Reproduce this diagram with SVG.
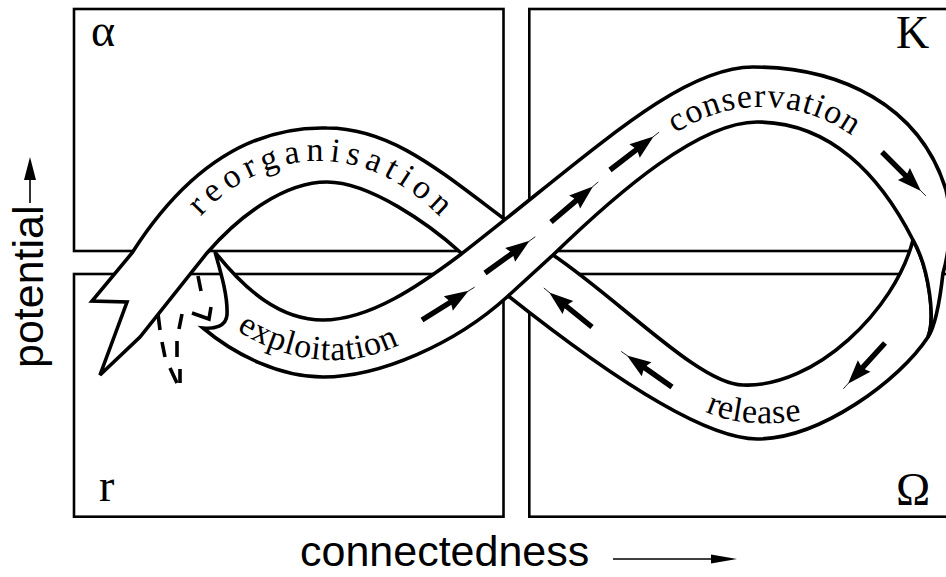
<svg xmlns="http://www.w3.org/2000/svg" xmlns:xlink="http://www.w3.org/1999/xlink" width="946" height="577" viewBox="0 0 946 577">
  <style>
    .box { fill: none; stroke: #000; stroke-width: 2.6; }
    .band { fill: #fff; stroke: #000; stroke-width: 3.6; stroke-linejoin: miter; stroke-miterlimit: 4; }
    .phase { font-family: "Liberation Serif", "Times New Roman", serif; font-size: 34px; fill: #000; }
    .corner { font-family: "Liberation Serif", "Times New Roman", serif; font-size: 46px; fill: #000; }
    .axis { font-family: "Liberation Sans", Arial, sans-serif; font-size: 43px; fill: #000; }
    .dash { fill: none; stroke: #000; stroke-width: 3.6; stroke-linecap: butt; stroke-linejoin: miter; }
  </style>
  <defs>
    <!-- flow arrow pointing along +x, tail at origin -->
    <g id="flow">
      <path d="M0,-2.7 L33,-2.7 L31,-8.5 L55,0 L31,8.5 L33,2.7 L0,2.7 Z" fill="#000"/>
      <line x1="54" y1="0" x2="62" y2="0" stroke="#000" stroke-width="0.8"/>
    </g>
    <!-- baselines for the curved phase labels -->
    <path id="p-reorg" d="M196,222 C235,175 285,160 322,161 C365,162 405,180 448,225"/>
    <path id="p-cons" d="M655,148 C690,120 725,107 760,107 C800,107 830,118 865,145"/>
    <path id="p-expl" d="M225,322 C260,348 300,362 342,360 C365,359 385,352 410,340"/>
    <path id="p-rel" d="M698,408 C725,424 770,428 820,417"/>
  </defs>

  <!-- quadrant boxes -->
  <g id="alpha">
    <rect class="box" x="74" y="9" width="429.5" height="242"/>
    <text class="corner" x="91" y="46" font-size="54">α</text>
  </g>
  <g id="K">
    <rect class="box" x="529.3" y="9" width="430" height="242"/>
    <text class="corner" x="896" y="48">K</text>
  </g>
  <g id="r">
    <rect class="box" x="74" y="274" width="429.5" height="242.7"/>
    <text class="corner" x="99" y="501">r</text>
  </g>
  <g id="Omega">
    <rect class="box" x="529.3" y="274" width="430" height="242.7"/>
    <text class="corner" x="896" y="505">Ω</text>
  </g>

  <g id="connectors">
    <!-- release + reorganisation ribbon (passes underneath at the centre) -->
    <path id="ribbon-back" class="band" d="M913,240 C895,310 815,388 743,385 C700,385 620,300 553,255 L503,218 C439,170 390,128 327,128 C250,126 185,170 132,253 L92,301 L127,302 L100,375 L140,337 L207,253 C240,215 285,182 327,182 C370,182 430,225 460,252 L507,295 C595,365 700,439 757,439 C820,439 900,380 928,337 C935,320 930,270 913,240 Z"/>

    <!-- exploitation + conservation ribbon (on top) -->
    <path id="ribbon-front" class="band" d="M215,252 C245,290 280,320 323,320 C370,320 420,285 460,255 C594,151 680,67 753,67 C840,67 920,105 946,190 C952,215 950,250 943,273 C940,300 936,325 928,337 C935,320 930,270 913,240 C880,175 830,122 757,122 C700,122 620,190 553,255 L507,297 C455,344 380,377 323,377 C280,377 235,355 203,328 C215,329 226,326 227,315 C228,295 220,270 215,252 Z"/>

    <!-- dashed escape ribbon -->
    <g id="escape">
      <path class="dash" d="M198,276 L201,291"/>
      <path class="dash" d="M211,307 L209,319 L192,313"/>
      <path class="dash" d="M158,314 L160,330 M162,342 L165,357 M170,368 L177,383"/>
      <path class="dash" d="M182,314 L179,329 M177,341 L177,357 M180,369 L180,383"/>
    </g>

    <!-- direction arrows -->
    <use xlink:href="#flow" transform="translate(422,320) rotate(-32)"/>
    <use xlink:href="#flow" transform="translate(485,273) rotate(-35.8)"/>
    <use xlink:href="#flow" transform="translate(551,222) rotate(-40.3)"/>
    <use xlink:href="#flow" transform="translate(610,170) rotate(-37.6)"/>
    <use xlink:href="#flow" transform="translate(882,152) rotate(45)"/>
    <use xlink:href="#flow" transform="translate(885,343) rotate(132.3)"/>
    <use xlink:href="#flow" transform="translate(672,387) rotate(-145)"/>
    <use xlink:href="#flow" transform="translate(592,327) rotate(-141)"/>
  </g>

  <!-- phase labels -->
  <g id="labels">
    <text class="phase" letter-spacing="6"><textPath xlink:href="#p-reorg" startOffset="7">reorganisation</textPath></text>
    <text class="phase" letter-spacing="1.3"><textPath xlink:href="#p-cons" startOffset="25">conservation</textPath></text>
    <text class="phase" letter-spacing="0.8"><textPath xlink:href="#p-expl" startOffset="14">exploitation</textPath></text>
    <text class="phase" letter-spacing="0.6"><textPath xlink:href="#p-rel" startOffset="8">release</textPath></text>
  </g>

  <!-- axes -->
  <g id="axes">
    <text class="axis" x="300" y="566">connectedness</text>
    <line x1="613" y1="559" x2="716" y2="559" stroke="#000" stroke-width="1.6"/>
    <path d="M737,559 L711,554.5 L711,563.5 Z" fill="#000"/>
    <text class="axis" font-size="40" transform="translate(43,368) rotate(-90)">potential</text>
    <line x1="30" y1="203" x2="30" y2="176" stroke="#000" stroke-width="1.6"/>
    <path d="M30,157 L24,180 L36,180 Z" fill="#000"/>
  </g>
</svg>
